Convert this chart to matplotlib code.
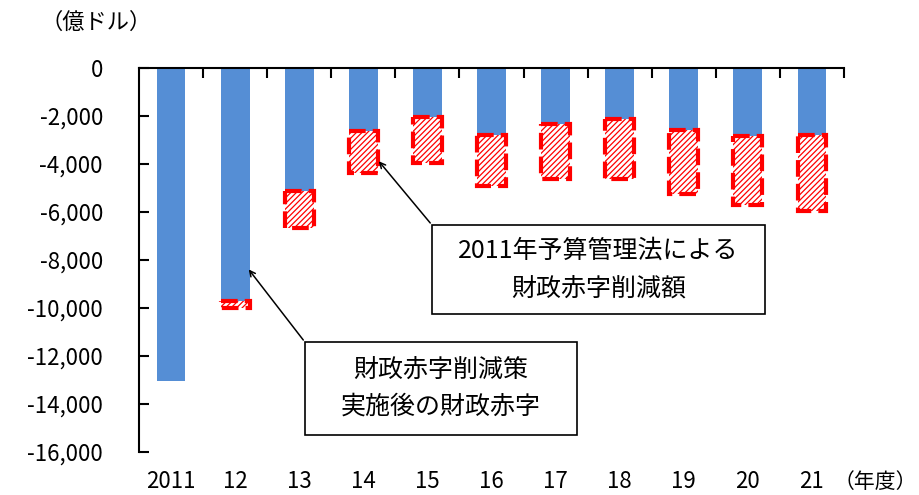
import matplotlib.pyplot as plt
from matplotlib.patches import Rectangle

plt.rcParams['font.family'] = ['Noto Sans CJK JP', 'DejaVu Sans']
plt.rcParams['hatch.linewidth'] = 0.9

# データ（億ドル）
years = ['2011', '12', '13', '14', '15', '16', '17', '18', '19', '20', '21']
after_deficit = [-13030, -9700, -5120, -2640, -2060, -2790, -2340, -2140, -2590, -2840, -2790]
reduction = [0, 280, 1550, 1740, 1880, 2130, 2300, 2470, 2660, 2870, 3160]
yticks = [0, -2000, -4000, -6000, -8000, -10000, -12000, -14000, -16000]

W, H = 919, 495
fig = plt.figure(figsize=(W / 100, H / 100), dpi=100)
ax = fig.add_axes([139 / W, 1 - 452 / H, (844 - 139) / W, (452 - 68) / H])

x = list(range(len(years)))
blue = '#558ed5'
ax.bar(x, after_deficit, width=0.45, color=blue, zorder=2)

# 削減額（赤ハッチ）
for i in x:
    if reduction[i] <= 0:
        continue
    ax.bar(i, -reduction[i], bottom=after_deficit[i], width=0.45,
           facecolor='white', edgecolor='#ff0000', hatch='//////',
           linewidth=3, linestyle=(0, (4, 1.7)), zorder=3)

ax.set_xlim(-0.5, len(years) - 0.5)
ax.set_ylim(-16000, 0)
ax.set_yticks(yticks)
ax.set_yticklabels(['0'] + [f'{v:,}' for v in yticks[1:]], fontsize=16)
ax.tick_params(axis='y', direction='in', length=7, width=1.5, pad=26)

# x軸（0 の線）を上に
ax.set_xticks([i + 0.5 for i in x])
ax.set_xticklabels([])
ax.tick_params(axis='x', direction='in', length=7, width=1.5, top=True, bottom=False)
ax.spines['right'].set_visible(False)
ax.spines['bottom'].set_visible(False)
ax.spines['top'].set_linewidth(1.5)
ax.spines['left'].set_linewidth(1.5)

for i, lab in enumerate(years):
    ax.text(i, -17250, lab, ha='center', va='center', fontsize=16, clip_on=False)
fig.text(917 / W, 1 - 482 / H, '（年度）', ha='right', va='center', fontsize=15)
fig.text(40 / W, 1 - 22 / H, '（億ドル）', ha='left', va='center', fontsize=16)

# 注記ボックス
box1 = Rectangle((4.072, -10259), 9.267 - 4.072, 10259 - 6547, facecolor='white',
                 edgecolor='black', linewidth=1.2, zorder=4, clip_on=False)
ax.add_patch(box1)
ax.text((4.072 + 9.267) / 2, -8400, '2011年予算管理法による\n財政赤字削減額',
        ha='center', va='center', fontsize=18, linespacing=1.55, zorder=5)
ax.annotate('', xy=(3.214, -3795), xytext=(4.072, -6547),
            arrowprops=dict(arrowstyle='->', color='black', lw=1.1), zorder=5)

box2 = Rectangle((2.09, -15305), 6.334 - 2.09, 15305 - 11426, facecolor='white',
                 edgecolor='black', linewidth=1.2, zorder=4, clip_on=False)
ax.add_patch(box2)
ax.text((2.09 + 6.334) / 2, -13330, '財政赤字削減策\n実施後の財政赤字',
        ha='center', va='center', fontsize=18, linespacing=1.55, zorder=5)
ax.annotate('', xy=(1.185, -8300), xytext=(2.09, -11426),
            arrowprops=dict(arrowstyle='->', color='black', lw=1.1), zorder=5)

fig.savefig('out.png', dpi=100)
